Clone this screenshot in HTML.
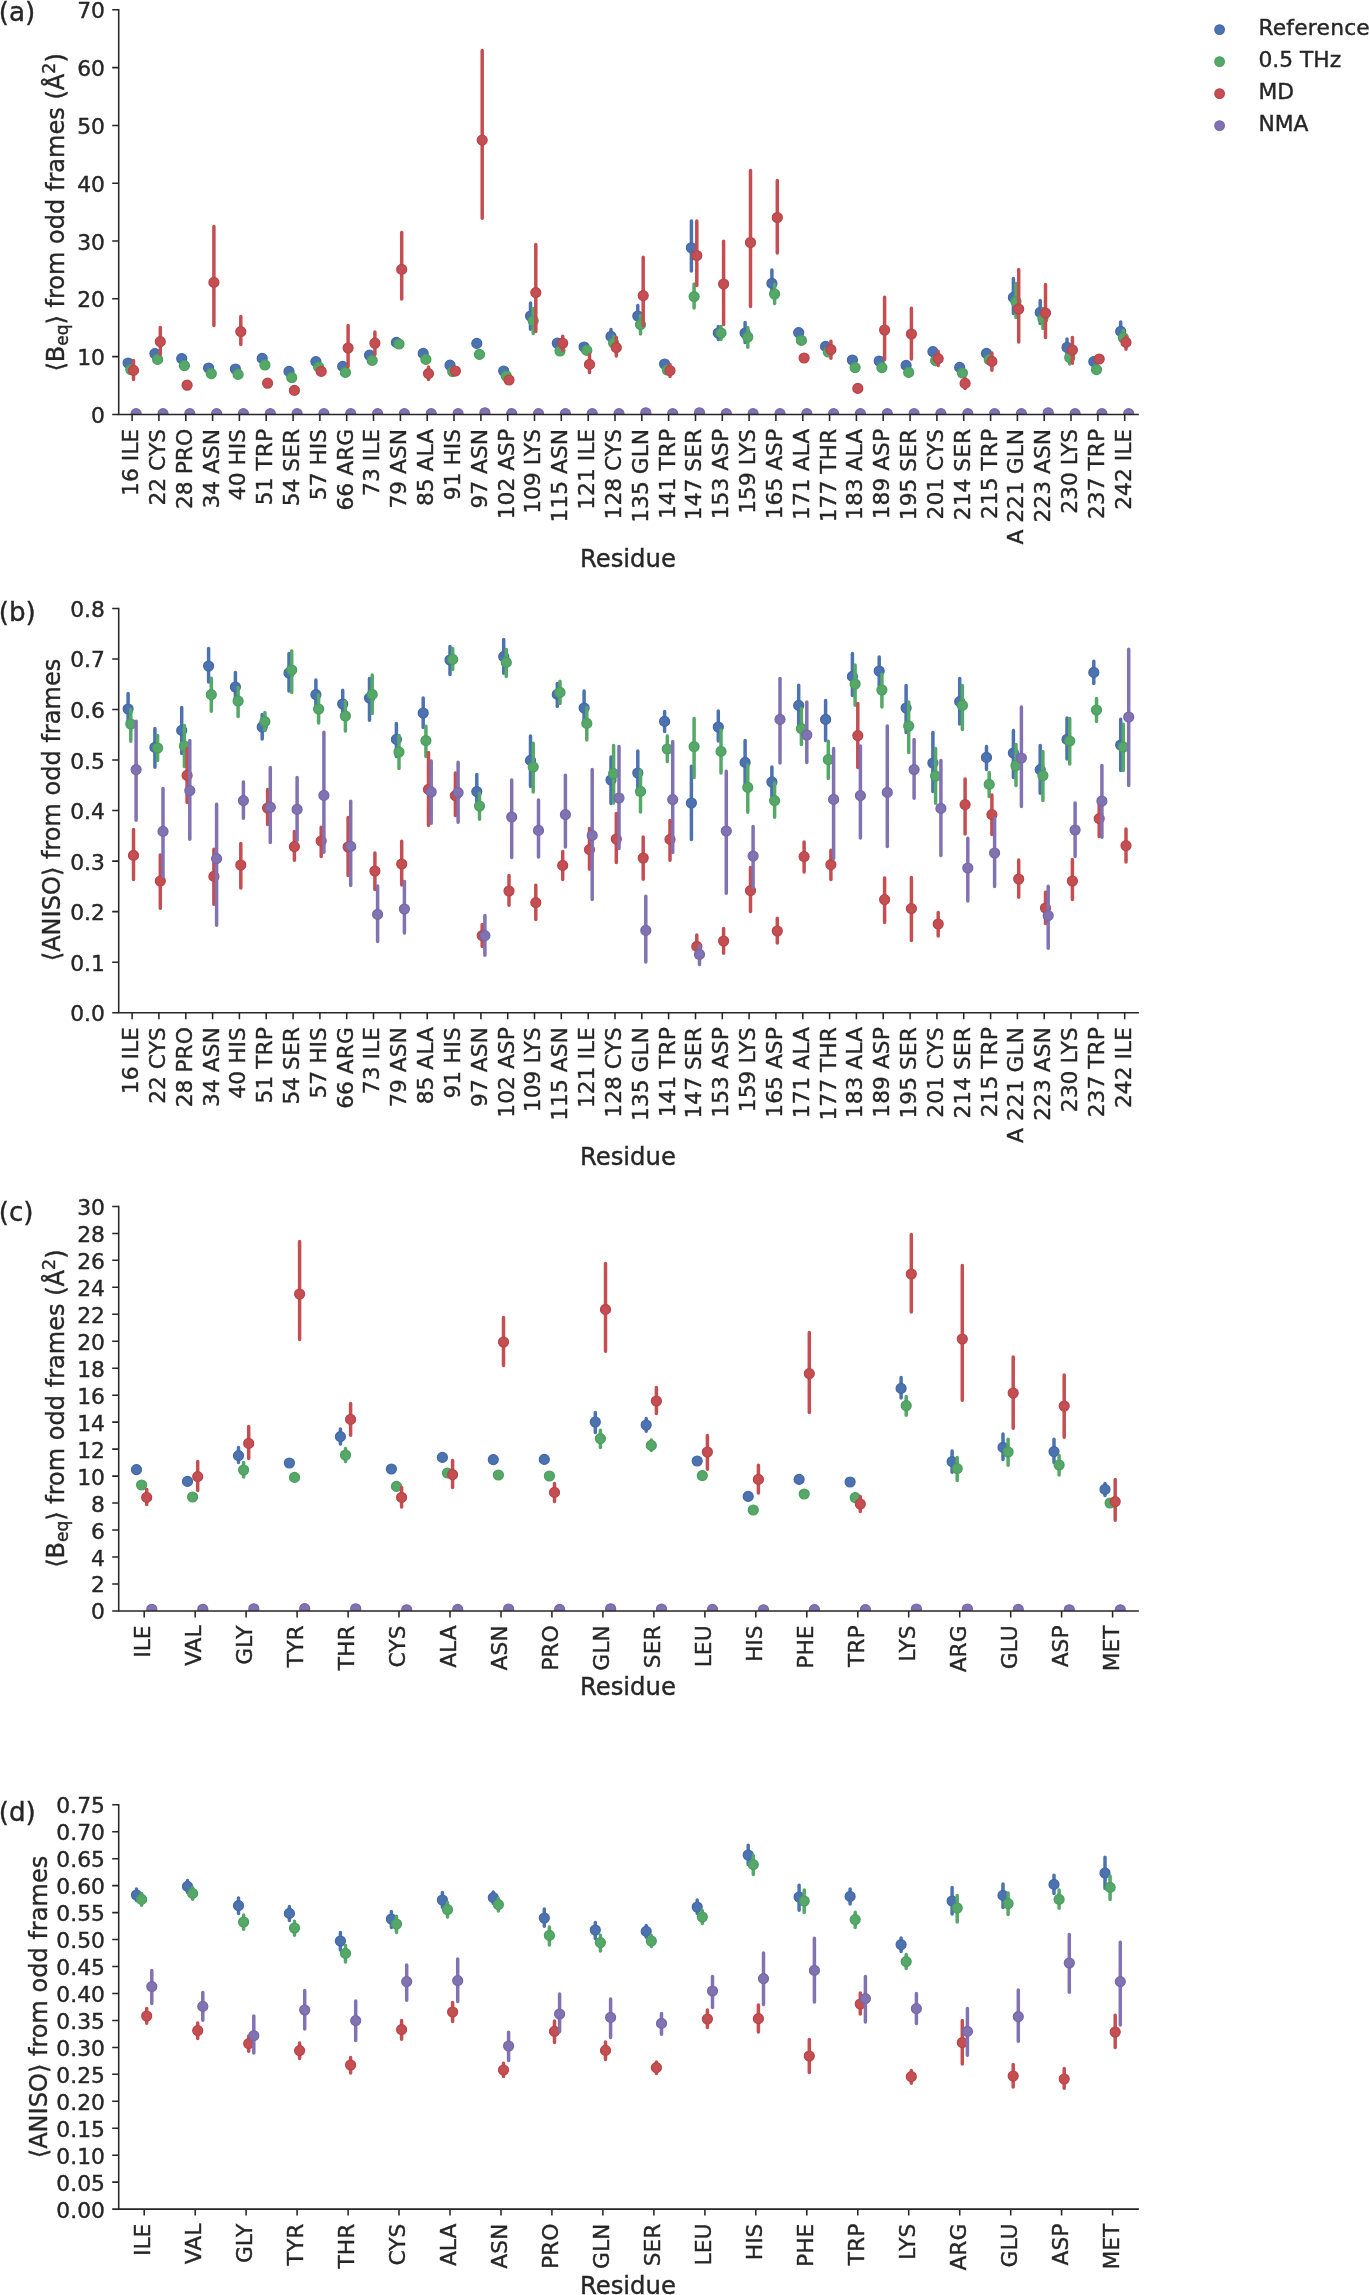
<!DOCTYPE html>
<html lang="en"><head><meta charset="utf-8"><title>Figure</title>
<style>html,body{margin:0;padding:0;background:#fff}svg{display:block}text{font-family:"DejaVu Sans","Liberation Sans",sans-serif;fill:#262626;stroke:#262626;stroke-width:0.4px}.t{font-size:21.8px}.l{font-size:24.05px}.h{font-size:26.2px}.ax{stroke:#262626;stroke-width:1.55;fill:none;stroke-linecap:square}.tk{stroke:#262626;stroke-width:1.55;fill:none}.b{fill:#4c72b0;stroke:#4c72b0}.g{fill:#55a868;stroke:#55a868}.r{fill:#c44e52;stroke:#c44e52}.p{fill:#8172b2;stroke:#8172b2}.e{stroke-width:3.5;stroke-linecap:round;fill:none}.b circle,circle.b{stroke:#4268a6}.g circle,circle.g{stroke:#4a9e5e}.r circle,circle.r{stroke:#b94448}.p circle,circle.p{stroke:#7667a9}circle{stroke-width:1.2}</style></head><body>
<svg style="will-change:transform" width="1370" height="2295" viewBox="0 0 1370 2295">
<rect width="1370" height="2295" fill="#fff"/>
<g id="panel-a">
<clipPath id="cp0"><rect x="118.7" y="-10.2" width="1019.4" height="424.6"/></clipPath>
<g clip-path="url(#cp0)">
<g class="b">
<path class="e" d="M530.5 303V329.2M611 329.6V343.6M637.8 305.6V326.6M691.4 220.9V270.9M718.3 326.6V339.6M745.1 322.6V342.6M771.9 270V291.6M1013.4 278.6V313.6M1040.2 300.6V323.6M1067 339V355.6M1120.7 322V340.6"/>
<circle cx="128.1" cy="363" r="5.0"/>
<circle cx="154.9" cy="353.6" r="5.0"/>
<circle cx="181.7" cy="358.6" r="5.0"/>
<circle cx="208.6" cy="368" r="5.0"/>
<circle cx="235.4" cy="369" r="5.0"/>
<circle cx="262.2" cy="358.4" r="5.0"/>
<circle cx="289" cy="371.4" r="5.0"/>
<circle cx="315.9" cy="361.6" r="5.0"/>
<circle cx="342.7" cy="366.4" r="5.0"/>
<circle cx="369.5" cy="355.2" r="5.0"/>
<circle cx="396.4" cy="342.4" r="5.0"/>
<circle cx="423.2" cy="353.4" r="5.0"/>
<circle cx="450" cy="365.2" r="5.0"/>
<circle cx="476.8" cy="343.4" r="5.0"/>
<circle cx="503.7" cy="371" r="5.0"/>
<circle cx="530.5" cy="316" r="5.0"/>
<circle cx="557.3" cy="343.2" r="5.0"/>
<circle cx="584.1" cy="347" r="5.0"/>
<circle cx="611" cy="336.4" r="5.0"/>
<circle cx="637.8" cy="316" r="5.0"/>
<circle cx="664.6" cy="364" r="5.0"/>
<circle cx="691.4" cy="247.8" r="5.0"/>
<circle cx="718.3" cy="333" r="5.0"/>
<circle cx="745.1" cy="333" r="5.0"/>
<circle cx="771.9" cy="283.4" r="5.0"/>
<circle cx="798.7" cy="332.6" r="5.0"/>
<circle cx="825.6" cy="346.4" r="5.0"/>
<circle cx="852.4" cy="360" r="5.0"/>
<circle cx="879.2" cy="361" r="5.0"/>
<circle cx="906.1" cy="365.4" r="5.0"/>
<circle cx="932.9" cy="351.6" r="5.0"/>
<circle cx="959.7" cy="367.4" r="5.0"/>
<circle cx="986.5" cy="353.4" r="5.0"/>
<circle cx="1013.4" cy="297.4" r="5.0"/>
<circle cx="1040.2" cy="312.4" r="5.0"/>
<circle cx="1067" cy="347.4" r="5.0"/>
<circle cx="1093.8" cy="361.6" r="5.0"/>
<circle cx="1120.7" cy="331.4" r="5.0"/>
</g>
<g class="g">
<path class="e" d="M533.2 308.6V333.6M613.6 336.6V349.6M640.5 315.6V334M694.1 284.1V308M721 326.6V339.6M747.8 327.6V347.2M774.6 284.6V303.6M1016 283.6V317.6M1042.9 308.6V328.6M1069.7 350.6V364M1123.3 330.6V344.6"/>
<circle cx="130.8" cy="369.6" r="5.0"/>
<circle cx="157.6" cy="359.4" r="5.0"/>
<circle cx="184.4" cy="365.6" r="5.0"/>
<circle cx="211.3" cy="373.6" r="5.0"/>
<circle cx="238.1" cy="374.4" r="5.0"/>
<circle cx="264.9" cy="365" r="5.0"/>
<circle cx="291.7" cy="377.6" r="5.0"/>
<circle cx="318.6" cy="367" r="5.0"/>
<circle cx="345.4" cy="372.4" r="5.0"/>
<circle cx="372.2" cy="360.4" r="5.0"/>
<circle cx="399" cy="344" r="5.0"/>
<circle cx="425.9" cy="359.4" r="5.0"/>
<circle cx="452.7" cy="371.6" r="5.0"/>
<circle cx="479.5" cy="354.4" r="5.0"/>
<circle cx="506.3" cy="376" r="5.0"/>
<circle cx="533.2" cy="320.8" r="5.0"/>
<circle cx="560" cy="351" r="5.0"/>
<circle cx="586.8" cy="350.4" r="5.0"/>
<circle cx="613.6" cy="343" r="5.0"/>
<circle cx="640.5" cy="324.6" r="5.0"/>
<circle cx="667.3" cy="370" r="5.0"/>
<circle cx="694.1" cy="296.6" r="5.0"/>
<circle cx="721" cy="333" r="5.0"/>
<circle cx="747.8" cy="337" r="5.0"/>
<circle cx="774.6" cy="294" r="5.0"/>
<circle cx="801.4" cy="340.4" r="5.0"/>
<circle cx="828.3" cy="352" r="5.0"/>
<circle cx="855.1" cy="367.6" r="5.0"/>
<circle cx="881.9" cy="367.6" r="5.0"/>
<circle cx="908.7" cy="372.4" r="5.0"/>
<circle cx="935.6" cy="360.6" r="5.0"/>
<circle cx="962.4" cy="373" r="5.0"/>
<circle cx="989.2" cy="359.6" r="5.0"/>
<circle cx="1016" cy="301.6" r="5.0"/>
<circle cx="1042.9" cy="318.6" r="5.0"/>
<circle cx="1069.7" cy="357.6" r="5.0"/>
<circle cx="1096.5" cy="369.6" r="5.0"/>
<circle cx="1123.3" cy="337.6" r="5.0"/>
</g>
<g class="r">
<path class="e" d="M133.5 360.6V379.6M160.3 327.6V354.6M213.9 226.6V325.6M240.8 316.6V344.6M348.1 325.6V366.6M374.9 332V354.6M401.7 232.6V299M428.5 367V379.6M482.2 50.6V218.2M535.8 244.6V331.6M562.7 336.2V350.6M589.5 354.6V372.6M616.3 337.6V356M643.2 257.2V325.6M670 364.6V376.6M696.8 220.9V285.6M723.6 241.2V324.6M750.5 170.6V306.4M777.3 180.4V253.1M830.9 341.2V358.2M884.6 297.2V359.6M911.4 308.2V359M938.2 351.6V365.6M965.1 378.6V388.6M991.9 353V370.2M1018.7 269.6V342M1045.5 284.6V337.6M1072.4 337.6V363.2M1126 336.6V349.2"/>
<circle cx="133.5" cy="370.4" r="5.0"/>
<circle cx="160.3" cy="341.6" r="5.0"/>
<circle cx="187.1" cy="385.2" r="5.0"/>
<circle cx="213.9" cy="282.4" r="5.0"/>
<circle cx="240.8" cy="331.6" r="5.0"/>
<circle cx="267.6" cy="383.2" r="5.0"/>
<circle cx="294.4" cy="390.4" r="5.0"/>
<circle cx="321.2" cy="371.4" r="5.0"/>
<circle cx="348.1" cy="348" r="5.0"/>
<circle cx="374.9" cy="343.2" r="5.0"/>
<circle cx="401.7" cy="269.4" r="5.0"/>
<circle cx="428.5" cy="373.6" r="5.0"/>
<circle cx="455.4" cy="371" r="5.0"/>
<circle cx="482.2" cy="140.1" r="5.0"/>
<circle cx="509" cy="380" r="5.0"/>
<circle cx="535.8" cy="292.6" r="5.0"/>
<circle cx="562.7" cy="343.2" r="5.0"/>
<circle cx="589.5" cy="364.4" r="5.0"/>
<circle cx="616.3" cy="347.6" r="5.0"/>
<circle cx="643.2" cy="295.6" r="5.0"/>
<circle cx="670" cy="370.6" r="5.0"/>
<circle cx="696.8" cy="255.5" r="5.0"/>
<circle cx="723.6" cy="284" r="5.0"/>
<circle cx="750.5" cy="242.5" r="5.0"/>
<circle cx="777.3" cy="217.5" r="5.0"/>
<circle cx="804.1" cy="358" r="5.0"/>
<circle cx="830.9" cy="349.6" r="5.0"/>
<circle cx="857.8" cy="388.4" r="5.0"/>
<circle cx="884.6" cy="330" r="5.0"/>
<circle cx="911.4" cy="334" r="5.0"/>
<circle cx="938.2" cy="358.6" r="5.0"/>
<circle cx="965.1" cy="383.4" r="5.0"/>
<circle cx="991.9" cy="361.4" r="5.0"/>
<circle cx="1018.7" cy="309" r="5.0"/>
<circle cx="1045.5" cy="313" r="5.0"/>
<circle cx="1072.4" cy="350" r="5.0"/>
<circle cx="1099.2" cy="359" r="5.0"/>
<circle cx="1126" cy="342.4" r="5.0"/>
</g>
<g class="p">
<circle cx="136.1" cy="413.7" r="5.0"/>
<circle cx="163" cy="413.7" r="5.0"/>
<circle cx="189.8" cy="413.7" r="5.0"/>
<circle cx="216.6" cy="413.7" r="5.0"/>
<circle cx="243.4" cy="413.7" r="5.0"/>
<circle cx="270.3" cy="413.7" r="5.0"/>
<circle cx="297.1" cy="413.7" r="5.0"/>
<circle cx="323.9" cy="413.7" r="5.0"/>
<circle cx="350.7" cy="413.7" r="5.0"/>
<circle cx="377.6" cy="413.7" r="5.0"/>
<circle cx="404.4" cy="413.7" r="5.0"/>
<circle cx="431.2" cy="413.7" r="5.0"/>
<circle cx="458.1" cy="413.7" r="5.0"/>
<circle cx="484.9" cy="412.8" r="5.0"/>
<circle cx="511.7" cy="413.7" r="5.0"/>
<circle cx="538.5" cy="413.7" r="5.0"/>
<circle cx="565.4" cy="413.7" r="5.0"/>
<circle cx="592.2" cy="413.7" r="5.0"/>
<circle cx="619" cy="413.7" r="5.0"/>
<circle cx="645.8" cy="412.8" r="5.0"/>
<circle cx="672.7" cy="413.7" r="5.0"/>
<circle cx="699.5" cy="412.8" r="5.0"/>
<circle cx="726.3" cy="413.7" r="5.0"/>
<circle cx="753.1" cy="413.7" r="5.0"/>
<circle cx="780" cy="413.7" r="5.0"/>
<circle cx="806.8" cy="413.7" r="5.0"/>
<circle cx="833.6" cy="413.7" r="5.0"/>
<circle cx="860.4" cy="413.7" r="5.0"/>
<circle cx="887.3" cy="413.7" r="5.0"/>
<circle cx="914.1" cy="413.7" r="5.0"/>
<circle cx="940.9" cy="413.7" r="5.0"/>
<circle cx="967.8" cy="413.7" r="5.0"/>
<circle cx="994.6" cy="413.7" r="5.0"/>
<circle cx="1021.4" cy="413.7" r="5.0"/>
<circle cx="1048.2" cy="412.8" r="5.0"/>
<circle cx="1075.1" cy="413.7" r="5.0"/>
<circle cx="1101.9" cy="413.7" r="5.0"/>
<circle cx="1128.7" cy="413.7" r="5.0"/>
</g>
</g>
<path class="ax" d="M118.7 9.8V414.4H1138.1"/>
<path class="tk" d="M118.7 414.4h-6.5M118.7 356.6h-6.5M118.7 298.8h-6.5M118.7 241h-6.5M118.7 183.2h-6.5M118.7 125.4h-6.5M118.7 67.6h-6.5M118.7 9.8h-6.5M132.1 414.4v6.5M158.9 414.4v6.5M185.8 414.4v6.5M212.6 414.4v6.5M239.4 414.4v6.5M266.2 414.4v6.5M293.1 414.4v6.5M319.9 414.4v6.5M346.7 414.4v6.5M373.5 414.4v6.5M400.4 414.4v6.5M427.2 414.4v6.5M454 414.4v6.5M480.9 414.4v6.5M507.7 414.4v6.5M534.5 414.4v6.5M561.3 414.4v6.5M588.2 414.4v6.5M615 414.4v6.5M641.8 414.4v6.5M668.6 414.4v6.5M695.5 414.4v6.5M722.3 414.4v6.5M749.1 414.4v6.5M775.9 414.4v6.5M802.8 414.4v6.5M829.6 414.4v6.5M856.4 414.4v6.5M883.2 414.4v6.5M910.1 414.4v6.5M936.9 414.4v6.5M963.7 414.4v6.5M990.6 414.4v6.5M1017.4 414.4v6.5M1044.2 414.4v6.5M1071 414.4v6.5M1097.9 414.4v6.5M1124.7 414.4v6.5"/>
<text class="t" x="104.9" y="422.9" text-anchor="end">0</text>
<text class="t" x="104.9" y="365.1" text-anchor="end">10</text>
<text class="t" x="104.9" y="307.3" text-anchor="end">20</text>
<text class="t" x="104.9" y="249.5" text-anchor="end">30</text>
<text class="t" x="104.9" y="191.7" text-anchor="end">40</text>
<text class="t" x="104.9" y="133.9" text-anchor="end">50</text>
<text class="t" x="104.9" y="76.1" text-anchor="end">60</text>
<text class="t" x="104.9" y="18.3" text-anchor="end">70</text>
<text class="t" transform="translate(138 428.9) rotate(-90)" text-anchor="end">16 ILE</text>
<text class="t" transform="translate(164.8 428.9) rotate(-90)" text-anchor="end">22 CYS</text>
<text class="t" transform="translate(191.7 428.9) rotate(-90)" text-anchor="end">28 PRO</text>
<text class="t" transform="translate(218.5 428.9) rotate(-90)" text-anchor="end">34 ASN</text>
<text class="t" transform="translate(245.3 428.9) rotate(-90)" text-anchor="end">40 HIS</text>
<text class="t" transform="translate(272.1 428.9) rotate(-90)" text-anchor="end">51 TRP</text>
<text class="t" transform="translate(299 428.9) rotate(-90)" text-anchor="end">54 SER</text>
<text class="t" transform="translate(325.8 428.9) rotate(-90)" text-anchor="end">57 HIS</text>
<text class="t" transform="translate(352.6 428.9) rotate(-90)" text-anchor="end">66 ARG</text>
<text class="t" transform="translate(379.4 428.9) rotate(-90)" text-anchor="end">73 ILE</text>
<text class="t" transform="translate(406.3 428.9) rotate(-90)" text-anchor="end">79 ASN</text>
<text class="t" transform="translate(433.1 428.9) rotate(-90)" text-anchor="end">85 ALA</text>
<text class="t" transform="translate(459.9 428.9) rotate(-90)" text-anchor="end">91 HIS</text>
<text class="t" transform="translate(486.8 428.9) rotate(-90)" text-anchor="end">97 ASN</text>
<text class="t" transform="translate(513.6 428.9) rotate(-90)" text-anchor="end">102 ASP</text>
<text class="t" transform="translate(540.4 428.9) rotate(-90)" text-anchor="end">109 LYS</text>
<text class="t" transform="translate(567.2 428.9) rotate(-90)" text-anchor="end">115 ASN</text>
<text class="t" transform="translate(594.1 428.9) rotate(-90)" text-anchor="end">121 ILE</text>
<text class="t" transform="translate(620.9 428.9) rotate(-90)" text-anchor="end">128 CYS</text>
<text class="t" transform="translate(647.7 428.9) rotate(-90)" text-anchor="end">135 GLN</text>
<text class="t" transform="translate(674.5 428.9) rotate(-90)" text-anchor="end">141 TRP</text>
<text class="t" transform="translate(701.4 428.9) rotate(-90)" text-anchor="end">147 SER</text>
<text class="t" transform="translate(728.2 428.9) rotate(-90)" text-anchor="end">153 ASP</text>
<text class="t" transform="translate(755 428.9) rotate(-90)" text-anchor="end">159 LYS</text>
<text class="t" transform="translate(781.8 428.9) rotate(-90)" text-anchor="end">165 ASP</text>
<text class="t" transform="translate(808.7 428.9) rotate(-90)" text-anchor="end">171 ALA</text>
<text class="t" transform="translate(835.5 428.9) rotate(-90)" text-anchor="end">177 THR</text>
<text class="t" transform="translate(862.3 428.9) rotate(-90)" text-anchor="end">183 ALA</text>
<text class="t" transform="translate(889.1 428.9) rotate(-90)" text-anchor="end">189 ASP</text>
<text class="t" transform="translate(916 428.9) rotate(-90)" text-anchor="end">195 SER</text>
<text class="t" transform="translate(942.8 428.9) rotate(-90)" text-anchor="end">201 CYS</text>
<text class="t" transform="translate(969.6 428.9) rotate(-90)" text-anchor="end">214 SER</text>
<text class="t" transform="translate(996.5 428.9) rotate(-90)" text-anchor="end">215 TRP</text>
<text class="t" transform="translate(1023.3 428.9) rotate(-90)" text-anchor="end">A 221 GLN</text>
<text class="t" transform="translate(1050.1 428.9) rotate(-90)" text-anchor="end">223 ASN</text>
<text class="t" transform="translate(1076.9 428.9) rotate(-90)" text-anchor="end">230 LYS</text>
<text class="t" transform="translate(1103.8 428.9) rotate(-90)" text-anchor="end">237 TRP</text>
<text class="t" transform="translate(1130.6 428.9) rotate(-90)" text-anchor="end">242 ILE</text>
<text class="l" style="font-size:24.3px" x="627.9" y="567.1" text-anchor="middle">Residue</text>
<text class="l" transform="translate(64.2 212.4) rotate(-90)" text-anchor="middle">⟨B<tspan font-size="16.9" dy="4.2">eq</tspan><tspan dy="-4.2">⟩ from odd frames (Å</tspan><tspan font-size="17.5" dy="-9.6">2</tspan><tspan dy="9.6">)</tspan></text>
<text class="h" x="-1.3" y="21.1">(a)</text>
</g>
<g id="panel-b">
<clipPath id="cp1"><rect x="118.7" y="588.4" width="1019.4" height="424.3"/></clipPath>
<g clip-path="url(#cp1)">
<g class="b">
<path class="e" d="M128.1 693.6V720.6M154.9 728.6V767.2M181.7 707.6V753.6M208.6 648.6V682M235.4 672.6V701.6M262.2 714.6V739M289 653.6V691M315.9 680V709.6M342.7 690.2V718.6M369.5 678.6V720.2M396.4 723.6V756.6M423.2 698V727.6M450 646.6V674.6M476.8 774.6V807.6M503.7 639.6V673.2M530.5 736V786.6M557.3 683.6V706.6M584.1 691V724.6M611 757V803.6M637.8 751V794.6M664.6 711.6V731.6M691.4 766.2V839.6M718.3 711V741M745.1 740.6V783.6M771.9 767V796.6M798.7 685.2V725.6M825.6 700.6V740.6M852.4 653.6V695.6M879.2 657V685.6M906.1 685.6V732.6M932.9 732.6V791.6M959.7 678.6V724M986.5 746.6V769.6M1013.4 730.6V777.6M1040.2 745.6V793.2M1067 718V759M1093.8 661.2V683.6M1120.7 719.2V770.6"/>
<circle cx="128.1" cy="709" r="5.0"/>
<circle cx="154.9" cy="747.4" r="5.0"/>
<circle cx="181.7" cy="730.4" r="5.0"/>
<circle cx="208.6" cy="666" r="5.0"/>
<circle cx="235.4" cy="687" r="5.0"/>
<circle cx="262.2" cy="727" r="5.0"/>
<circle cx="289" cy="673" r="5.0"/>
<circle cx="315.9" cy="694.6" r="5.0"/>
<circle cx="342.7" cy="704" r="5.0"/>
<circle cx="369.5" cy="698" r="5.0"/>
<circle cx="396.4" cy="739.4" r="5.0"/>
<circle cx="423.2" cy="713" r="5.0"/>
<circle cx="450" cy="660" r="5.0"/>
<circle cx="476.8" cy="791.6" r="5.0"/>
<circle cx="503.7" cy="656.6" r="5.0"/>
<circle cx="530.5" cy="760.4" r="5.0"/>
<circle cx="557.3" cy="694.4" r="5.0"/>
<circle cx="584.1" cy="708" r="5.0"/>
<circle cx="611" cy="780" r="5.0"/>
<circle cx="637.8" cy="773" r="5.0"/>
<circle cx="664.6" cy="721.4" r="5.0"/>
<circle cx="691.4" cy="803" r="5.0"/>
<circle cx="718.3" cy="727" r="5.0"/>
<circle cx="745.1" cy="762.4" r="5.0"/>
<circle cx="771.9" cy="782" r="5.0"/>
<circle cx="798.7" cy="705.4" r="5.0"/>
<circle cx="825.6" cy="719.4" r="5.0"/>
<circle cx="852.4" cy="676.4" r="5.0"/>
<circle cx="879.2" cy="671" r="5.0"/>
<circle cx="906.1" cy="708" r="5.0"/>
<circle cx="932.9" cy="763" r="5.0"/>
<circle cx="959.7" cy="701.6" r="5.0"/>
<circle cx="986.5" cy="757.4" r="5.0"/>
<circle cx="1013.4" cy="753" r="5.0"/>
<circle cx="1040.2" cy="769.6" r="5.0"/>
<circle cx="1067" cy="739.4" r="5.0"/>
<circle cx="1093.8" cy="672.4" r="5.0"/>
<circle cx="1120.7" cy="745" r="5.0"/>
</g>
<g class="g">
<path class="e" d="M130.8 709.6V741.2M157.6 735.6V760.6M184.4 725.6V766.6M211.3 678.2V711.2M238.1 687.6V716.6M264.9 712.6V730.6M291.7 651V692.6M318.6 695V723M345.4 701.6V731M372.2 675V713.6M399 735.6V768.6M425.9 726.2V756.6M452.7 648.6V669.6M479.5 793V819.2M506.3 649.6V676.6M533.2 743.2V792M560 681.2V703.6M586.8 707.6V740M613.6 745.6V803M640.5 770.6V812M667.3 736V761.6M694.1 718.6V777.6M721 730V773M747.8 765V812.2M774.6 783V817.2M801.4 708.6V744.6M828.3 741.2V778.6M855.1 665V705.2M881.9 674.2V707M908.7 702V752.6M935.6 748.6V803.2M962.4 685.6V729.6M989.2 772.6V796.6M1016 744.6V785.6M1042.9 751.6V800.6M1069.7 718.6V764M1096.5 698.6V721.6M1123.3 724.2V770.6"/>
<circle cx="130.8" cy="724" r="5.0"/>
<circle cx="157.6" cy="748" r="5.0"/>
<circle cx="184.4" cy="746" r="5.0"/>
<circle cx="211.3" cy="694.6" r="5.0"/>
<circle cx="238.1" cy="701" r="5.0"/>
<circle cx="264.9" cy="721.6" r="5.0"/>
<circle cx="291.7" cy="670" r="5.0"/>
<circle cx="318.6" cy="709" r="5.0"/>
<circle cx="345.4" cy="716" r="5.0"/>
<circle cx="372.2" cy="694.4" r="5.0"/>
<circle cx="399" cy="752" r="5.0"/>
<circle cx="425.9" cy="740.6" r="5.0"/>
<circle cx="452.7" cy="659.4" r="5.0"/>
<circle cx="479.5" cy="806" r="5.0"/>
<circle cx="506.3" cy="662.4" r="5.0"/>
<circle cx="533.2" cy="767" r="5.0"/>
<circle cx="560" cy="692.4" r="5.0"/>
<circle cx="586.8" cy="723.4" r="5.0"/>
<circle cx="613.6" cy="773.6" r="5.0"/>
<circle cx="640.5" cy="791.4" r="5.0"/>
<circle cx="667.3" cy="749" r="5.0"/>
<circle cx="694.1" cy="746.6" r="5.0"/>
<circle cx="721" cy="751.4" r="5.0"/>
<circle cx="747.8" cy="787.4" r="5.0"/>
<circle cx="774.6" cy="800.6" r="5.0"/>
<circle cx="801.4" cy="728.6" r="5.0"/>
<circle cx="828.3" cy="759.6" r="5.0"/>
<circle cx="855.1" cy="684" r="5.0"/>
<circle cx="881.9" cy="690" r="5.0"/>
<circle cx="908.7" cy="726" r="5.0"/>
<circle cx="935.6" cy="776" r="5.0"/>
<circle cx="962.4" cy="705.4" r="5.0"/>
<circle cx="989.2" cy="784.4" r="5.0"/>
<circle cx="1016" cy="765.6" r="5.0"/>
<circle cx="1042.9" cy="775.6" r="5.0"/>
<circle cx="1069.7" cy="741" r="5.0"/>
<circle cx="1096.5" cy="710" r="5.0"/>
<circle cx="1123.3" cy="747" r="5.0"/>
</g>
<g class="r">
<path class="e" d="M133.5 829.6V879.6M160.3 855V908.2M187.1 748.6V802.6M213.9 849.2V904.2M240.8 843.6V888M267.6 789.6V824.6M294.4 831.6V860.2M321.2 827.2V856.6M348.1 817.6V875.6M374.9 853V889.6M401.7 841.2V885M428.5 752.6V825.6M455.4 773V815.6M482.2 924.6V946.6M509 875.6V905.2M535.8 885.2V919.6M562.7 851.6V879.6M589.5 828.6V869.2M616.3 813.6V862.6M643.2 837V879.2M670 820.6V860.2M696.8 935V957.6M723.6 928.6V953.2M750.5 867.6V911.6M777.3 918.2V943M804.1 842V872M830.9 850.2V879.6M857.8 703.6V767.6M884.6 878V922.6M911.4 877.6V940.6M938.2 912.6V936M965.1 779V834M991.9 795V834.6M1018.7 860V897.2M1045.5 892.2V923.6M1072.4 859.6V899.6M1099.2 801.6V836.6M1126 829V862"/>
<circle cx="133.5" cy="855.4" r="5.0"/>
<circle cx="160.3" cy="881" r="5.0"/>
<circle cx="187.1" cy="775.4" r="5.0"/>
<circle cx="213.9" cy="876.4" r="5.0"/>
<circle cx="240.8" cy="865" r="5.0"/>
<circle cx="267.6" cy="808" r="5.0"/>
<circle cx="294.4" cy="846.6" r="5.0"/>
<circle cx="321.2" cy="841" r="5.0"/>
<circle cx="348.1" cy="847" r="5.0"/>
<circle cx="374.9" cy="871" r="5.0"/>
<circle cx="401.7" cy="864" r="5.0"/>
<circle cx="428.5" cy="789.4" r="5.0"/>
<circle cx="455.4" cy="795.6" r="5.0"/>
<circle cx="482.2" cy="935.6" r="5.0"/>
<circle cx="509" cy="891" r="5.0"/>
<circle cx="535.8" cy="902.6" r="5.0"/>
<circle cx="562.7" cy="865.4" r="5.0"/>
<circle cx="589.5" cy="849.6" r="5.0"/>
<circle cx="616.3" cy="839" r="5.0"/>
<circle cx="643.2" cy="858" r="5.0"/>
<circle cx="670" cy="839.4" r="5.0"/>
<circle cx="696.8" cy="946.4" r="5.0"/>
<circle cx="723.6" cy="941" r="5.0"/>
<circle cx="750.5" cy="890.6" r="5.0"/>
<circle cx="777.3" cy="931" r="5.0"/>
<circle cx="804.1" cy="856.6" r="5.0"/>
<circle cx="830.9" cy="864.6" r="5.0"/>
<circle cx="857.8" cy="735.6" r="5.0"/>
<circle cx="884.6" cy="899.6" r="5.0"/>
<circle cx="911.4" cy="908.6" r="5.0"/>
<circle cx="938.2" cy="924" r="5.0"/>
<circle cx="965.1" cy="804.6" r="5.0"/>
<circle cx="991.9" cy="814.6" r="5.0"/>
<circle cx="1018.7" cy="879" r="5.0"/>
<circle cx="1045.5" cy="908" r="5.0"/>
<circle cx="1072.4" cy="881" r="5.0"/>
<circle cx="1099.2" cy="818.6" r="5.0"/>
<circle cx="1126" cy="845.6" r="5.0"/>
</g>
<g class="p">
<path class="e" d="M136.1 721.2V820.2M163 788.6V876.6M189.8 740.6V839.2M216.6 804.2V925.2M243.4 782V818.2M270.3 767.6V842.6M297.1 777.6V840.6M323.9 732.2V852.2M350.7 801.2V885.6M377.6 886V941.6M404.4 881.6V933M431.2 761V823.2M458.1 762.2V822.2M484.9 915.6V955.2M511.7 780V857.6M538.5 800V857M565.4 775.2V847M592.2 769.6V899.6M619 746.6V848.6M645.8 896.2V962M672.7 741.6V852.6M699.5 945.6V964.6M726.3 771.2V893.2M753.1 826.6V887.6M780 678.6V763M806.8 702V762.6M833.6 748.6V858.6M860.4 746V838M887.3 726V846.6M914.1 739.6V798.2M940.9 760.6V855.6M967.8 838.2V901M994.6 818.6V886.6M1021.4 707V806.6M1048.2 886.2V948.2M1075.1 803V856.6M1101.9 765.6V837.2M1128.7 649.2V785.6"/>
<circle cx="136.1" cy="769.6" r="5.0"/>
<circle cx="163" cy="831.4" r="5.0"/>
<circle cx="189.8" cy="790.6" r="5.0"/>
<circle cx="216.6" cy="858.6" r="5.0"/>
<circle cx="243.4" cy="800.6" r="5.0"/>
<circle cx="270.3" cy="807.2" r="5.0"/>
<circle cx="297.1" cy="809.4" r="5.0"/>
<circle cx="323.9" cy="795.4" r="5.0"/>
<circle cx="350.7" cy="846.4" r="5.0"/>
<circle cx="377.6" cy="914.4" r="5.0"/>
<circle cx="404.4" cy="909" r="5.0"/>
<circle cx="431.2" cy="792" r="5.0"/>
<circle cx="458.1" cy="792.6" r="5.0"/>
<circle cx="484.9" cy="935.6" r="5.0"/>
<circle cx="511.7" cy="817" r="5.0"/>
<circle cx="538.5" cy="830.4" r="5.0"/>
<circle cx="565.4" cy="814.6" r="5.0"/>
<circle cx="592.2" cy="835.4" r="5.0"/>
<circle cx="619" cy="798" r="5.0"/>
<circle cx="645.8" cy="930.4" r="5.0"/>
<circle cx="672.7" cy="799.6" r="5.0"/>
<circle cx="699.5" cy="954.4" r="5.0"/>
<circle cx="726.3" cy="831" r="5.0"/>
<circle cx="753.1" cy="856" r="5.0"/>
<circle cx="780" cy="719.4" r="5.0"/>
<circle cx="806.8" cy="735" r="5.0"/>
<circle cx="833.6" cy="799.4" r="5.0"/>
<circle cx="860.4" cy="795.6" r="5.0"/>
<circle cx="887.3" cy="792.4" r="5.0"/>
<circle cx="914.1" cy="769.6" r="5.0"/>
<circle cx="940.9" cy="808.4" r="5.0"/>
<circle cx="967.8" cy="868" r="5.0"/>
<circle cx="994.6" cy="853" r="5.0"/>
<circle cx="1021.4" cy="758" r="5.0"/>
<circle cx="1048.2" cy="915.6" r="5.0"/>
<circle cx="1075.1" cy="830" r="5.0"/>
<circle cx="1101.9" cy="801" r="5.0"/>
<circle cx="1128.7" cy="717" r="5.0"/>
</g>
</g>
<path class="ax" d="M118.7 608.4V1012.7H1138.1"/>
<path class="tk" d="M118.7 1012.7h-6.5M118.7 962.2h-6.5M118.7 911.6h-6.5M118.7 861.1h-6.5M118.7 810.5h-6.5M118.7 760h-6.5M118.7 709.5h-6.5M118.7 658.9h-6.5M118.7 608.4h-6.5M132.1 1012.7v6.5M158.9 1012.7v6.5M185.8 1012.7v6.5M212.6 1012.7v6.5M239.4 1012.7v6.5M266.2 1012.7v6.5M293.1 1012.7v6.5M319.9 1012.7v6.5M346.7 1012.7v6.5M373.5 1012.7v6.5M400.4 1012.7v6.5M427.2 1012.7v6.5M454 1012.7v6.5M480.9 1012.7v6.5M507.7 1012.7v6.5M534.5 1012.7v6.5M561.3 1012.7v6.5M588.2 1012.7v6.5M615 1012.7v6.5M641.8 1012.7v6.5M668.6 1012.7v6.5M695.5 1012.7v6.5M722.3 1012.7v6.5M749.1 1012.7v6.5M775.9 1012.7v6.5M802.8 1012.7v6.5M829.6 1012.7v6.5M856.4 1012.7v6.5M883.2 1012.7v6.5M910.1 1012.7v6.5M936.9 1012.7v6.5M963.7 1012.7v6.5M990.6 1012.7v6.5M1017.4 1012.7v6.5M1044.2 1012.7v6.5M1071 1012.7v6.5M1097.9 1012.7v6.5M1124.7 1012.7v6.5"/>
<text class="t" x="104.9" y="1021.2" text-anchor="end">0.0</text>
<text class="t" x="104.9" y="970.6" text-anchor="end">0.1</text>
<text class="t" x="104.9" y="920.1" text-anchor="end">0.2</text>
<text class="t" x="104.9" y="869.6" text-anchor="end">0.3</text>
<text class="t" x="104.9" y="819" text-anchor="end">0.4</text>
<text class="t" x="104.9" y="768.5" text-anchor="end">0.5</text>
<text class="t" x="104.9" y="717.9" text-anchor="end">0.6</text>
<text class="t" x="104.9" y="667.4" text-anchor="end">0.7</text>
<text class="t" x="104.9" y="616.9" text-anchor="end">0.8</text>
<text class="t" transform="translate(138 1027.2) rotate(-90)" text-anchor="end">16 ILE</text>
<text class="t" transform="translate(164.8 1027.2) rotate(-90)" text-anchor="end">22 CYS</text>
<text class="t" transform="translate(191.7 1027.2) rotate(-90)" text-anchor="end">28 PRO</text>
<text class="t" transform="translate(218.5 1027.2) rotate(-90)" text-anchor="end">34 ASN</text>
<text class="t" transform="translate(245.3 1027.2) rotate(-90)" text-anchor="end">40 HIS</text>
<text class="t" transform="translate(272.1 1027.2) rotate(-90)" text-anchor="end">51 TRP</text>
<text class="t" transform="translate(299 1027.2) rotate(-90)" text-anchor="end">54 SER</text>
<text class="t" transform="translate(325.8 1027.2) rotate(-90)" text-anchor="end">57 HIS</text>
<text class="t" transform="translate(352.6 1027.2) rotate(-90)" text-anchor="end">66 ARG</text>
<text class="t" transform="translate(379.4 1027.2) rotate(-90)" text-anchor="end">73 ILE</text>
<text class="t" transform="translate(406.3 1027.2) rotate(-90)" text-anchor="end">79 ASN</text>
<text class="t" transform="translate(433.1 1027.2) rotate(-90)" text-anchor="end">85 ALA</text>
<text class="t" transform="translate(459.9 1027.2) rotate(-90)" text-anchor="end">91 HIS</text>
<text class="t" transform="translate(486.8 1027.2) rotate(-90)" text-anchor="end">97 ASN</text>
<text class="t" transform="translate(513.6 1027.2) rotate(-90)" text-anchor="end">102 ASP</text>
<text class="t" transform="translate(540.4 1027.2) rotate(-90)" text-anchor="end">109 LYS</text>
<text class="t" transform="translate(567.2 1027.2) rotate(-90)" text-anchor="end">115 ASN</text>
<text class="t" transform="translate(594.1 1027.2) rotate(-90)" text-anchor="end">121 ILE</text>
<text class="t" transform="translate(620.9 1027.2) rotate(-90)" text-anchor="end">128 CYS</text>
<text class="t" transform="translate(647.7 1027.2) rotate(-90)" text-anchor="end">135 GLN</text>
<text class="t" transform="translate(674.5 1027.2) rotate(-90)" text-anchor="end">141 TRP</text>
<text class="t" transform="translate(701.4 1027.2) rotate(-90)" text-anchor="end">147 SER</text>
<text class="t" transform="translate(728.2 1027.2) rotate(-90)" text-anchor="end">153 ASP</text>
<text class="t" transform="translate(755 1027.2) rotate(-90)" text-anchor="end">159 LYS</text>
<text class="t" transform="translate(781.8 1027.2) rotate(-90)" text-anchor="end">165 ASP</text>
<text class="t" transform="translate(808.7 1027.2) rotate(-90)" text-anchor="end">171 ALA</text>
<text class="t" transform="translate(835.5 1027.2) rotate(-90)" text-anchor="end">177 THR</text>
<text class="t" transform="translate(862.3 1027.2) rotate(-90)" text-anchor="end">183 ALA</text>
<text class="t" transform="translate(889.1 1027.2) rotate(-90)" text-anchor="end">189 ASP</text>
<text class="t" transform="translate(916 1027.2) rotate(-90)" text-anchor="end">195 SER</text>
<text class="t" transform="translate(942.8 1027.2) rotate(-90)" text-anchor="end">201 CYS</text>
<text class="t" transform="translate(969.6 1027.2) rotate(-90)" text-anchor="end">214 SER</text>
<text class="t" transform="translate(996.5 1027.2) rotate(-90)" text-anchor="end">215 TRP</text>
<text class="t" transform="translate(1023.3 1027.2) rotate(-90)" text-anchor="end">A 221 GLN</text>
<text class="t" transform="translate(1050.1 1027.2) rotate(-90)" text-anchor="end">223 ASN</text>
<text class="t" transform="translate(1076.9 1027.2) rotate(-90)" text-anchor="end">230 LYS</text>
<text class="t" transform="translate(1103.8 1027.2) rotate(-90)" text-anchor="end">237 TRP</text>
<text class="t" transform="translate(1130.6 1027.2) rotate(-90)" text-anchor="end">242 ILE</text>
<text class="l" style="font-size:24.3px" x="627.9" y="1165.2" text-anchor="middle">Residue</text>
<text class="l" transform="translate(60.4 810) rotate(-90)" text-anchor="middle">⟨ANISO⟩ from odd frames</text>
<text class="h" x="-1.3" y="620.9">(b)</text>
</g>
<g id="panel-c">
<clipPath id="cp2"><rect x="118.7" y="1186.4" width="1019.4" height="424.5"/></clipPath>
<g clip-path="url(#cp2)">
<g class="b">
<path class="e" d="M238.5 1447.6V1462.6M340.4 1429V1444M595.3 1412.6V1432.6M646.2 1418.6V1431.2M901.1 1377.6V1398M952.1 1451V1472.2M1003 1434V1459.6M1054 1439.2V1462.6M1105 1483.6V1495.6"/>
<circle cx="136.5" cy="1469.6" r="5.0"/>
<circle cx="187.5" cy="1481.4" r="5.0"/>
<circle cx="238.5" cy="1455.6" r="5.0"/>
<circle cx="289.4" cy="1463" r="5.0"/>
<circle cx="340.4" cy="1436.6" r="5.0"/>
<circle cx="391.4" cy="1469" r="5.0"/>
<circle cx="442.4" cy="1457.4" r="5.0"/>
<circle cx="493.3" cy="1459.6" r="5.0"/>
<circle cx="544.3" cy="1459.4" r="5.0"/>
<circle cx="595.3" cy="1422" r="5.0"/>
<circle cx="646.2" cy="1425" r="5.0"/>
<circle cx="697.2" cy="1461" r="5.0"/>
<circle cx="748.2" cy="1496.4" r="5.0"/>
<circle cx="799.1" cy="1479.4" r="5.0"/>
<circle cx="850.1" cy="1482" r="5.0"/>
<circle cx="901.1" cy="1388.4" r="5.0"/>
<circle cx="952.1" cy="1461.6" r="5.0"/>
<circle cx="1003" cy="1447.4" r="5.0"/>
<circle cx="1054" cy="1451.6" r="5.0"/>
<circle cx="1105" cy="1489.4" r="5.0"/>
</g>
<g class="g">
<path class="e" d="M243.6 1462.6V1477M345.5 1448.6V1461.6M600.4 1430.2V1447.6M651.3 1440V1450.6M906.2 1396.6V1415.2M957.2 1457.6V1480.6M1008.1 1439.2V1465.2M1059.1 1455.6V1475"/>
<circle cx="141.6" cy="1485" r="5.0"/>
<circle cx="192.6" cy="1497" r="5.0"/>
<circle cx="243.6" cy="1470" r="5.0"/>
<circle cx="294.5" cy="1477.4" r="5.0"/>
<circle cx="345.5" cy="1455" r="5.0"/>
<circle cx="396.5" cy="1486.4" r="5.0"/>
<circle cx="447.5" cy="1473" r="5.0"/>
<circle cx="498.4" cy="1475" r="5.0"/>
<circle cx="549.4" cy="1476" r="5.0"/>
<circle cx="600.4" cy="1438.6" r="5.0"/>
<circle cx="651.3" cy="1445.4" r="5.0"/>
<circle cx="702.3" cy="1475.6" r="5.0"/>
<circle cx="753.3" cy="1510" r="5.0"/>
<circle cx="804.2" cy="1494" r="5.0"/>
<circle cx="855.2" cy="1497.6" r="5.0"/>
<circle cx="906.2" cy="1405.6" r="5.0"/>
<circle cx="957.2" cy="1468.6" r="5.0"/>
<circle cx="1008.1" cy="1452" r="5.0"/>
<circle cx="1059.1" cy="1465" r="5.0"/>
<circle cx="1110.1" cy="1503" r="5.0"/>
</g>
<g class="r">
<path class="e" d="M146.7 1489.6V1504.6M197.7 1461.6V1490.6M248.7 1426.6V1458.6M299.6 1241.6V1339.6M350.6 1403.6V1435.2M401.6 1487.6V1507M452.6 1460.6V1487.6M503.5 1317.6V1365.6M554.5 1483.6V1501.6M605.5 1263.6V1351.2M656.4 1387.6V1413.6M707.4 1435.6V1469.2M758.4 1465.2V1493M809.3 1332.6V1412.6M860.3 1496.6V1511.6M911.3 1234.6V1312M962.3 1265.6V1400.2M1013.2 1357V1428.2M1064.2 1375V1437.2M1115.2 1479.6V1520.2"/>
<circle cx="146.7" cy="1497.4" r="5.0"/>
<circle cx="197.7" cy="1476.6" r="5.0"/>
<circle cx="248.7" cy="1443.4" r="5.0"/>
<circle cx="299.6" cy="1294" r="5.0"/>
<circle cx="350.6" cy="1419.4" r="5.0"/>
<circle cx="401.6" cy="1497.4" r="5.0"/>
<circle cx="452.6" cy="1474.6" r="5.0"/>
<circle cx="503.5" cy="1342" r="5.0"/>
<circle cx="554.5" cy="1492.4" r="5.0"/>
<circle cx="605.5" cy="1309.4" r="5.0"/>
<circle cx="656.4" cy="1401" r="5.0"/>
<circle cx="707.4" cy="1452" r="5.0"/>
<circle cx="758.4" cy="1479.4" r="5.0"/>
<circle cx="809.3" cy="1373.6" r="5.0"/>
<circle cx="860.3" cy="1504" r="5.0"/>
<circle cx="911.3" cy="1274" r="5.0"/>
<circle cx="962.3" cy="1339" r="5.0"/>
<circle cx="1013.2" cy="1393" r="5.0"/>
<circle cx="1064.2" cy="1406" r="5.0"/>
<circle cx="1115.2" cy="1501.6" r="5.0"/>
</g>
<g class="p">
<circle cx="151.8" cy="1609.3" r="5.0"/>
<circle cx="202.8" cy="1609.3" r="5.0"/>
<circle cx="253.8" cy="1608.8" r="5.0"/>
<circle cx="304.7" cy="1608.6" r="5.0"/>
<circle cx="355.7" cy="1608.8" r="5.0"/>
<circle cx="406.7" cy="1609.8" r="5.0"/>
<circle cx="457.7" cy="1609.4" r="5.0"/>
<circle cx="508.6" cy="1609" r="5.0"/>
<circle cx="559.6" cy="1609.4" r="5.0"/>
<circle cx="610.6" cy="1608.8" r="5.0"/>
<circle cx="661.5" cy="1609" r="5.0"/>
<circle cx="712.5" cy="1609.4" r="5.0"/>
<circle cx="763.5" cy="1609.8" r="5.0"/>
<circle cx="814.4" cy="1609.6" r="5.0"/>
<circle cx="865.4" cy="1609.6" r="5.0"/>
<circle cx="916.4" cy="1609" r="5.0"/>
<circle cx="967.4" cy="1609" r="5.0"/>
<circle cx="1018.3" cy="1609.4" r="5.0"/>
<circle cx="1069.3" cy="1609.8" r="5.0"/>
<circle cx="1120.3" cy="1609.8" r="5.0"/>
</g>
</g>
<path class="ax" d="M118.7 1206.4V1610.9H1138.1"/>
<path class="tk" d="M118.7 1610.9h-6.5M118.7 1583.9h-6.5M118.7 1557h-6.5M118.7 1530h-6.5M118.7 1503h-6.5M118.7 1476.1h-6.5M118.7 1449.1h-6.5M118.7 1422.1h-6.5M118.7 1395.2h-6.5M118.7 1368.2h-6.5M118.7 1341.2h-6.5M118.7 1314.3h-6.5M118.7 1287.3h-6.5M118.7 1260.3h-6.5M118.7 1233.4h-6.5M118.7 1206.4h-6.5M144.2 1610.9v6.5M195.2 1610.9v6.5M246.1 1610.9v6.5M297.1 1610.9v6.5M348.1 1610.9v6.5M399 1610.9v6.5M450 1610.9v6.5M501 1610.9v6.5M551.9 1610.9v6.5M602.9 1610.9v6.5M653.9 1610.9v6.5M704.9 1610.9v6.5M755.8 1610.9v6.5M806.8 1610.9v6.5M857.8 1610.9v6.5M908.7 1610.9v6.5M959.7 1610.9v6.5M1010.7 1610.9v6.5M1061.6 1610.9v6.5M1112.6 1610.9v6.5"/>
<text class="t" x="104.9" y="1619.4" text-anchor="end">0</text>
<text class="t" x="104.9" y="1592.4" text-anchor="end">2</text>
<text class="t" x="104.9" y="1565.5" text-anchor="end">4</text>
<text class="t" x="104.9" y="1538.5" text-anchor="end">6</text>
<text class="t" x="104.9" y="1511.5" text-anchor="end">8</text>
<text class="t" x="104.9" y="1484.6" text-anchor="end">10</text>
<text class="t" x="104.9" y="1457.6" text-anchor="end">12</text>
<text class="t" x="104.9" y="1430.6" text-anchor="end">14</text>
<text class="t" x="104.9" y="1403.7" text-anchor="end">16</text>
<text class="t" x="104.9" y="1376.7" text-anchor="end">18</text>
<text class="t" x="104.9" y="1349.7" text-anchor="end">20</text>
<text class="t" x="104.9" y="1322.8" text-anchor="end">22</text>
<text class="t" x="104.9" y="1295.8" text-anchor="end">24</text>
<text class="t" x="104.9" y="1268.8" text-anchor="end">26</text>
<text class="t" x="104.9" y="1241.9" text-anchor="end">28</text>
<text class="t" x="104.9" y="1214.9" text-anchor="end">30</text>
<text class="t" transform="translate(150.1 1625.4) rotate(-90)" text-anchor="end">ILE</text>
<text class="t" transform="translate(201.1 1625.4) rotate(-90)" text-anchor="end">VAL</text>
<text class="t" transform="translate(252 1625.4) rotate(-90)" text-anchor="end">GLY</text>
<text class="t" transform="translate(303 1625.4) rotate(-90)" text-anchor="end">TYR</text>
<text class="t" transform="translate(354 1625.4) rotate(-90)" text-anchor="end">THR</text>
<text class="t" transform="translate(404.9 1625.4) rotate(-90)" text-anchor="end">CYS</text>
<text class="t" transform="translate(455.9 1625.4) rotate(-90)" text-anchor="end">ALA</text>
<text class="t" transform="translate(506.9 1625.4) rotate(-90)" text-anchor="end">ASN</text>
<text class="t" transform="translate(557.8 1625.4) rotate(-90)" text-anchor="end">PRO</text>
<text class="t" transform="translate(608.8 1625.4) rotate(-90)" text-anchor="end">GLN</text>
<text class="t" transform="translate(659.8 1625.4) rotate(-90)" text-anchor="end">SER</text>
<text class="t" transform="translate(710.8 1625.4) rotate(-90)" text-anchor="end">LEU</text>
<text class="t" transform="translate(761.7 1625.4) rotate(-90)" text-anchor="end">HIS</text>
<text class="t" transform="translate(812.7 1625.4) rotate(-90)" text-anchor="end">PHE</text>
<text class="t" transform="translate(863.7 1625.4) rotate(-90)" text-anchor="end">TRP</text>
<text class="t" transform="translate(914.6 1625.4) rotate(-90)" text-anchor="end">LYS</text>
<text class="t" transform="translate(965.6 1625.4) rotate(-90)" text-anchor="end">ARG</text>
<text class="t" transform="translate(1016.6 1625.4) rotate(-90)" text-anchor="end">GLU</text>
<text class="t" transform="translate(1067.5 1625.4) rotate(-90)" text-anchor="end">ASP</text>
<text class="t" transform="translate(1118.5 1625.4) rotate(-90)" text-anchor="end">MET</text>
<text class="l" style="font-size:24.3px" x="627.9" y="1695.3" text-anchor="middle">Residue</text>
<text class="l" transform="translate(64.2 1408.6) rotate(-90)" text-anchor="middle">⟨B<tspan font-size="16.9" dy="4.2">eq</tspan><tspan dy="-4.2">⟩ from odd frames (Å</tspan><tspan font-size="17.5" dy="-9.6">2</tspan><tspan dy="9.6">)</tspan></text>
<text class="h" x="-1.3" y="1220.7">(c)</text>
</g>
<g id="panel-d">
<clipPath id="cp3"><rect x="118.7" y="1784.8" width="1019.4" height="424.3"/></clipPath>
<g clip-path="url(#cp3)">
<g class="b">
<path class="e" d="M136.5 1889V1900.6M187.5 1880.6V1892.6M238.5 1898V1913.6M289.4 1906.6V1920.6M340.4 1932.6V1950M391.4 1911.6V1927.6M442.4 1892.6V1907.6M493.3 1892V1903.6M544.3 1909V1926.2M595.3 1922.6V1938.6M646.2 1925.6V1937.2M697.2 1900V1913.6M748.2 1845.2V1864.6M799.1 1885.2V1910.2M850.1 1889V1904M901.1 1938V1951.6M952.1 1887.6V1914M1003 1884V1907.6M1054 1875.2V1893.6M1105 1857.2V1888.2"/>
<circle cx="136.5" cy="1895" r="5.0"/>
<circle cx="187.5" cy="1886.4" r="5.0"/>
<circle cx="238.5" cy="1905.6" r="5.0"/>
<circle cx="289.4" cy="1913.4" r="5.0"/>
<circle cx="340.4" cy="1941" r="5.0"/>
<circle cx="391.4" cy="1919" r="5.0"/>
<circle cx="442.4" cy="1900" r="5.0"/>
<circle cx="493.3" cy="1897.6" r="5.0"/>
<circle cx="544.3" cy="1918" r="5.0"/>
<circle cx="595.3" cy="1930" r="5.0"/>
<circle cx="646.2" cy="1931.4" r="5.0"/>
<circle cx="697.2" cy="1907" r="5.0"/>
<circle cx="748.2" cy="1855" r="5.0"/>
<circle cx="799.1" cy="1897" r="5.0"/>
<circle cx="850.1" cy="1896.4" r="5.0"/>
<circle cx="901.1" cy="1944.6" r="5.0"/>
<circle cx="952.1" cy="1901" r="5.0"/>
<circle cx="1003" cy="1895.4" r="5.0"/>
<circle cx="1054" cy="1884.4" r="5.0"/>
<circle cx="1105" cy="1873" r="5.0"/>
</g>
<g class="g">
<path class="e" d="M141.6 1893.6V1905.2M192.6 1887.6V1899.2M243.6 1915V1929.2M294.5 1921.2V1935.2M345.5 1945.6V1962M396.5 1916.2V1932.6M447.5 1902.6V1917M498.4 1898.6V1911M549.4 1927V1945M600.4 1935.2V1951M651.3 1935.6V1946.6M702.3 1910.6V1923.6M753.3 1855.6V1874.6M804.2 1890V1912.6M855.2 1912.2V1927.6M906.2 1954.6V1968.6M957.2 1895.6V1922M1008.1 1893V1914.6M1059.1 1890V1908.2M1110.1 1876V1899.6"/>
<circle cx="141.6" cy="1899.4" r="5.0"/>
<circle cx="192.6" cy="1893.4" r="5.0"/>
<circle cx="243.6" cy="1922" r="5.0"/>
<circle cx="294.5" cy="1928" r="5.0"/>
<circle cx="345.5" cy="1953.4" r="5.0"/>
<circle cx="396.5" cy="1924" r="5.0"/>
<circle cx="447.5" cy="1909.6" r="5.0"/>
<circle cx="498.4" cy="1904.6" r="5.0"/>
<circle cx="549.4" cy="1935.4" r="5.0"/>
<circle cx="600.4" cy="1942.6" r="5.0"/>
<circle cx="651.3" cy="1941" r="5.0"/>
<circle cx="702.3" cy="1917" r="5.0"/>
<circle cx="753.3" cy="1864.6" r="5.0"/>
<circle cx="804.2" cy="1901" r="5.0"/>
<circle cx="855.2" cy="1919.6" r="5.0"/>
<circle cx="906.2" cy="1961.6" r="5.0"/>
<circle cx="957.2" cy="1908" r="5.0"/>
<circle cx="1008.1" cy="1903.6" r="5.0"/>
<circle cx="1059.1" cy="1899.4" r="5.0"/>
<circle cx="1110.1" cy="1887.4" r="5.0"/>
</g>
<g class="r">
<path class="e" d="M146.7 2008.6V2023.2M197.7 2023V2038.6M248.7 2036V2051.2M299.6 2043V2058.6M350.6 2057.6V2073M401.6 2020.6V2039.2M452.6 2002.6V2021.6M503.5 2063.2V2076.6M554.5 2021V2042.6M605.5 2042V2059.6M656.4 2062V2073.6M707.4 2010V2027.6M758.4 2005V2032M809.3 2039.6V2072.6M860.3 1993V2014M911.3 2070.6V2083.2M962.3 2020.6V2064M1013.2 2064.6V2087M1064.2 2068.6V2088.2M1115.2 2015.2V2047.6"/>
<circle cx="146.7" cy="2016" r="5.0"/>
<circle cx="197.7" cy="2030.6" r="5.0"/>
<circle cx="248.7" cy="2043.6" r="5.0"/>
<circle cx="299.6" cy="2050.6" r="5.0"/>
<circle cx="350.6" cy="2065" r="5.0"/>
<circle cx="401.6" cy="2029.6" r="5.0"/>
<circle cx="452.6" cy="2012" r="5.0"/>
<circle cx="503.5" cy="2070" r="5.0"/>
<circle cx="554.5" cy="2031.4" r="5.0"/>
<circle cx="605.5" cy="2050.4" r="5.0"/>
<circle cx="656.4" cy="2067.6" r="5.0"/>
<circle cx="707.4" cy="2019" r="5.0"/>
<circle cx="758.4" cy="2018.6" r="5.0"/>
<circle cx="809.3" cy="2056" r="5.0"/>
<circle cx="860.3" cy="2004" r="5.0"/>
<circle cx="911.3" cy="2076.6" r="5.0"/>
<circle cx="962.3" cy="2042.6" r="5.0"/>
<circle cx="1013.2" cy="2076" r="5.0"/>
<circle cx="1064.2" cy="2079" r="5.0"/>
<circle cx="1115.2" cy="2032" r="5.0"/>
</g>
<g class="p">
<path class="e" d="M151.8 1970.6V2003.6M202.8 1992.6V2020.2M253.8 2016V2053M304.7 1990.6V2029M355.7 2001V2040.6M406.7 1965V2000.2M457.7 1959V2001.6M508.6 2032.2V2060.6M559.6 1994V2031.6M610.6 1999V2037.6M661.5 2013.6V2034.2M712.5 1976.6V2007.6M763.5 1953V2004.6M814.4 1938.2V2002M865.4 1976.6V2022M916.4 1993.6V2023.6M967.4 2008.6V2055.2M1018.3 1990V2041.2M1069.3 1934.6V1992.2M1120.3 1942.2V2025"/>
<circle cx="151.8" cy="1986.6" r="5.0"/>
<circle cx="202.8" cy="2006.4" r="5.0"/>
<circle cx="253.8" cy="2035.6" r="5.0"/>
<circle cx="304.7" cy="2010" r="5.0"/>
<circle cx="355.7" cy="2020.6" r="5.0"/>
<circle cx="406.7" cy="1981.6" r="5.0"/>
<circle cx="457.7" cy="1980.6" r="5.0"/>
<circle cx="508.6" cy="2046" r="5.0"/>
<circle cx="559.6" cy="2014" r="5.0"/>
<circle cx="610.6" cy="2017.4" r="5.0"/>
<circle cx="661.5" cy="2023.4" r="5.0"/>
<circle cx="712.5" cy="1991" r="5.0"/>
<circle cx="763.5" cy="1978.6" r="5.0"/>
<circle cx="814.4" cy="1970.4" r="5.0"/>
<circle cx="865.4" cy="1998.6" r="5.0"/>
<circle cx="916.4" cy="2008.6" r="5.0"/>
<circle cx="967.4" cy="2031.4" r="5.0"/>
<circle cx="1018.3" cy="2016.6" r="5.0"/>
<circle cx="1069.3" cy="1963" r="5.0"/>
<circle cx="1120.3" cy="1981.6" r="5.0"/>
</g>
</g>
<path class="ax" d="M118.7 1804.8V2209.1H1138.1"/>
<path class="tk" d="M118.7 2209.1h-6.5M118.7 2182.1h-6.5M118.7 2155.2h-6.5M118.7 2128.2h-6.5M118.7 2101.3h-6.5M118.7 2074.3h-6.5M118.7 2047.4h-6.5M118.7 2020.4h-6.5M118.7 1993.5h-6.5M118.7 1966.5h-6.5M118.7 1939.5h-6.5M118.7 1912.6h-6.5M118.7 1885.6h-6.5M118.7 1858.7h-6.5M118.7 1831.7h-6.5M118.7 1804.8h-6.5M144.2 2209.1v6.5M195.2 2209.1v6.5M246.1 2209.1v6.5M297.1 2209.1v6.5M348.1 2209.1v6.5M399 2209.1v6.5M450 2209.1v6.5M501 2209.1v6.5M551.9 2209.1v6.5M602.9 2209.1v6.5M653.9 2209.1v6.5M704.9 2209.1v6.5M755.8 2209.1v6.5M806.8 2209.1v6.5M857.8 2209.1v6.5M908.7 2209.1v6.5M959.7 2209.1v6.5M1010.7 2209.1v6.5M1061.6 2209.1v6.5M1112.6 2209.1v6.5"/>
<text class="t" x="104.9" y="2217.6" text-anchor="end">0.00</text>
<text class="t" x="104.9" y="2190.6" text-anchor="end">0.05</text>
<text class="t" x="104.9" y="2163.7" text-anchor="end">0.10</text>
<text class="t" x="104.9" y="2136.7" text-anchor="end">0.15</text>
<text class="t" x="104.9" y="2109.8" text-anchor="end">0.20</text>
<text class="t" x="104.9" y="2082.8" text-anchor="end">0.25</text>
<text class="t" x="104.9" y="2055.9" text-anchor="end">0.30</text>
<text class="t" x="104.9" y="2028.9" text-anchor="end">0.35</text>
<text class="t" x="104.9" y="2001.9" text-anchor="end">0.40</text>
<text class="t" x="104.9" y="1975" text-anchor="end">0.45</text>
<text class="t" x="104.9" y="1948" text-anchor="end">0.50</text>
<text class="t" x="104.9" y="1921.1" text-anchor="end">0.55</text>
<text class="t" x="104.9" y="1894.1" text-anchor="end">0.60</text>
<text class="t" x="104.9" y="1867.2" text-anchor="end">0.65</text>
<text class="t" x="104.9" y="1840.2" text-anchor="end">0.70</text>
<text class="t" x="104.9" y="1813.3" text-anchor="end">0.75</text>
<text class="t" transform="translate(150.1 2223.6) rotate(-90)" text-anchor="end">ILE</text>
<text class="t" transform="translate(201.1 2223.6) rotate(-90)" text-anchor="end">VAL</text>
<text class="t" transform="translate(252 2223.6) rotate(-90)" text-anchor="end">GLY</text>
<text class="t" transform="translate(303 2223.6) rotate(-90)" text-anchor="end">TYR</text>
<text class="t" transform="translate(354 2223.6) rotate(-90)" text-anchor="end">THR</text>
<text class="t" transform="translate(404.9 2223.6) rotate(-90)" text-anchor="end">CYS</text>
<text class="t" transform="translate(455.9 2223.6) rotate(-90)" text-anchor="end">ALA</text>
<text class="t" transform="translate(506.9 2223.6) rotate(-90)" text-anchor="end">ASN</text>
<text class="t" transform="translate(557.8 2223.6) rotate(-90)" text-anchor="end">PRO</text>
<text class="t" transform="translate(608.8 2223.6) rotate(-90)" text-anchor="end">GLN</text>
<text class="t" transform="translate(659.8 2223.6) rotate(-90)" text-anchor="end">SER</text>
<text class="t" transform="translate(710.8 2223.6) rotate(-90)" text-anchor="end">LEU</text>
<text class="t" transform="translate(761.7 2223.6) rotate(-90)" text-anchor="end">HIS</text>
<text class="t" transform="translate(812.7 2223.6) rotate(-90)" text-anchor="end">PHE</text>
<text class="t" transform="translate(863.7 2223.6) rotate(-90)" text-anchor="end">TRP</text>
<text class="t" transform="translate(914.6 2223.6) rotate(-90)" text-anchor="end">LYS</text>
<text class="t" transform="translate(965.6 2223.6) rotate(-90)" text-anchor="end">ARG</text>
<text class="t" transform="translate(1016.6 2223.6) rotate(-90)" text-anchor="end">GLU</text>
<text class="t" transform="translate(1067.5 2223.6) rotate(-90)" text-anchor="end">ASP</text>
<text class="t" transform="translate(1118.5 2223.6) rotate(-90)" text-anchor="end">MET</text>
<text class="l" style="font-size:24.3px" x="627.9" y="2293.7" text-anchor="middle">Residue</text>
<text class="l" transform="translate(46.6 2007) rotate(-90)" text-anchor="middle">⟨ANISO⟩ from odd frames</text>
<text class="h" x="-1.3" y="1820.7">(d)</text>
</g>
<g id="legend">
<circle class="b" cx="1219.6" cy="29.6" r="4.8"/>
<text class="t" x="1258.4" y="35.1" letter-spacing="0.2">Reference</text>
<circle class="g" cx="1219.6" cy="61.6" r="4.8"/>
<text class="t" x="1258.4" y="67.1">0.5 THz</text>
<circle class="r" cx="1219.6" cy="93.6" r="4.8"/>
<text class="t" x="1258.4" y="99.1">MD</text>
<circle class="p" cx="1219.6" cy="125.6" r="4.8"/>
<text class="t" x="1258.4" y="131.1">NMA</text>
</g>
</svg></body></html>
